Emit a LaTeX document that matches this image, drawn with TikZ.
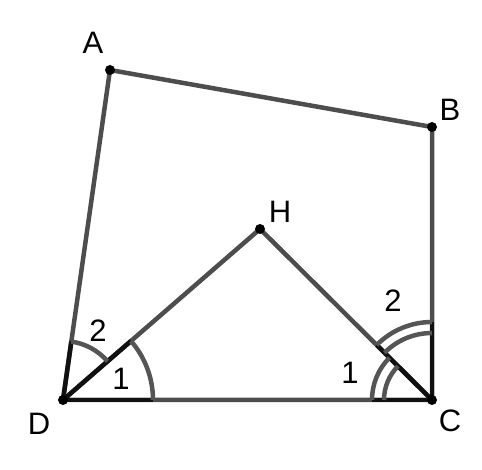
\documentclass[tikz,border=0pt]{standalone}
\usepackage{fontspec}
\setmainfont{Liberation Sans}
\usetikzlibrary{calc}
\definecolor{seg}{HTML}{4D4D4D}
\definecolor{arcc}{HTML}{555555}
\definecolor{edge}{HTML}{111111}
\tikzset{
  segline/.style={draw=seg, line width=4.5pt},
  edgeline/.style={draw=edge, line width=4.5pt},
  arcline/.style={draw=arcc, line width=4.5pt},
  dot/.style={circle, fill=black, inner sep=0pt, minimum size=10pt},
  lbl/.style={font=\fontsize{31}{36}\selectfont, inner sep=0pt}
}
\begin{document}
\begin{tikzpicture}[x=1pt,y=1pt]
\useasboundingbox (0,0) rectangle (482,470);
\coordinate (A) at (110,400);
\coordinate (B) at (432,343);
\coordinate (C) at (432,70);
\coordinate (D) at (63,70);
\coordinate (H) at (260,241);
% segments
\draw[segline, line join=round] (D) -- (A) -- (B) -- (C) -- (D);
\draw[segline, line join=round] (D) -- (H) -- (C);
% sector edges
\draw[edgeline] (D) -- ($(D)!90pt!(C)$);
\draw[edgeline] (D) -- ($(D)!90pt!(H)$);
\draw[edgeline] (D) -- ($(D)!59pt!(A)$);
\draw[edgeline] (C) -- ($(C)!60pt!(D)$);
\draw[edgeline] (C) -- ($(C)!78pt!(H)$);
\draw[edgeline] (C) -- ($(C)!78pt!(B)$);
% arcs at D
\draw[arcline] ($(D)+(0:90)$) arc[start angle=0, end angle=40.96, radius=90];
\draw[arcline] ($(D)+(40.96:59)$) arc[start angle=40.96, end angle=81.9, radius=59];
% arcs at C
\draw[arcline] ($(C)+(135.17:60)$) arc[start angle=135.17, end angle=180, radius=60];
\draw[arcline] ($(C)+(135.17:48)$) arc[start angle=135.17, end angle=180, radius=48];
\draw[arcline] ($(C)+(90:78)$) arc[start angle=90, end angle=135.17, radius=78];
\draw[arcline] ($(C)+(90:67)$) arc[start angle=90, end angle=135.17, radius=67];
% points
\node[dot] (pA) at (A) {};
\node[dot] (pB) at (B) {};
\node[dot] (pC) at (C) {};
\node[dot] (pD) at (D) {};
\node[dot] (pH) at (H) {};
% labels
\node[lbl] (lA) at (93,427) {A};
\node[lbl] (lB) at (450,360) {B};
\node[lbl] (lH) at (280,258) {H};
\node[lbl] (lC) at (450,49) {C};
\node[lbl] (lD) at (39,46) {D};
\node[lbl] (d2) at (98,139) {2};
\node[lbl] (d1) at (121,91) {1};
\node[lbl] (c2) at (393,169) {2};
\node[lbl] (c1) at (350,97) {1};
\end{tikzpicture}
\end{document}
